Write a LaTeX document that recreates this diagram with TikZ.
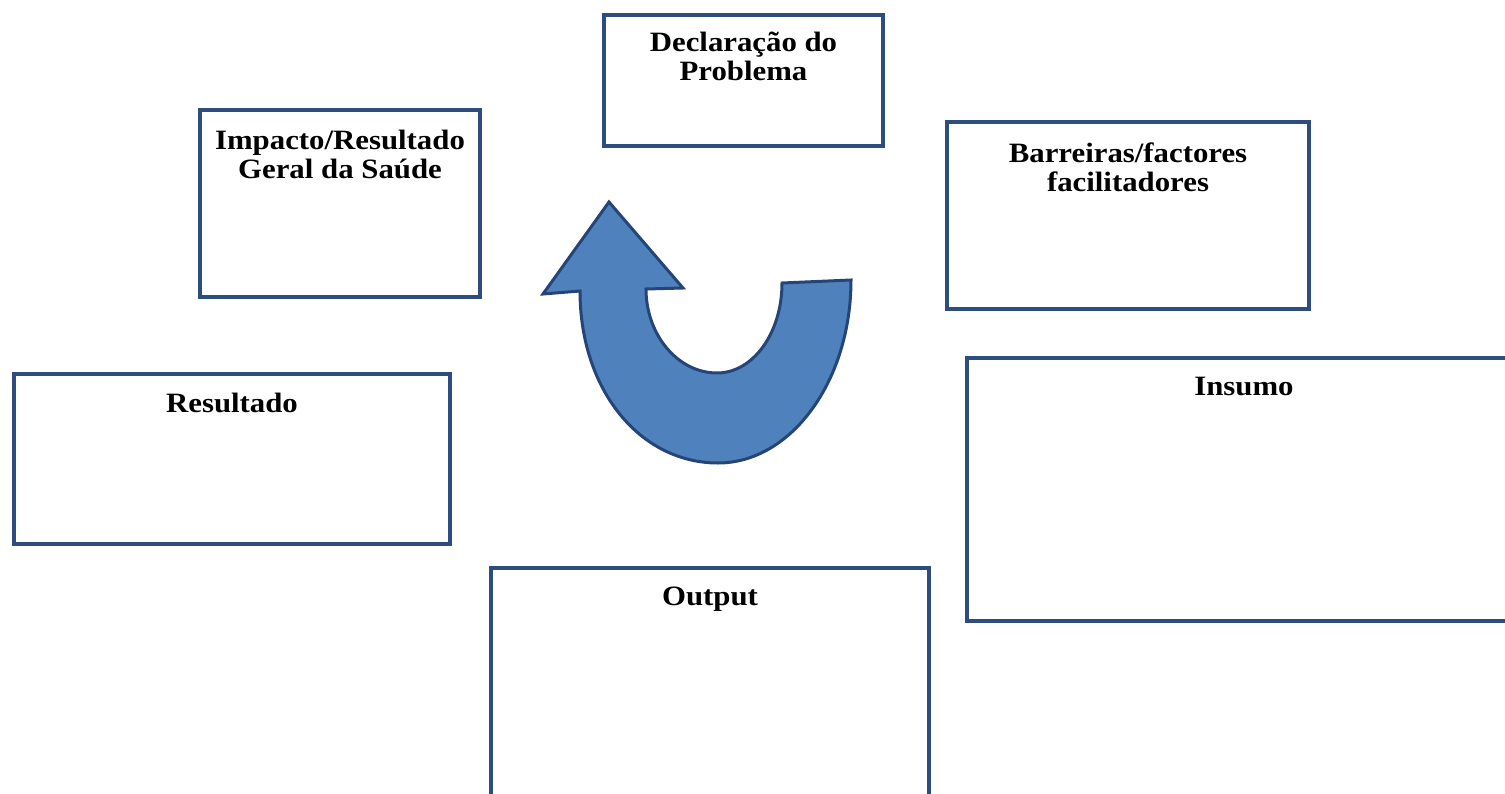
\documentclass[tikz,border=0pt]{standalone}
\usepackage{fontspec}
\setmainfont[FakeStretch=1.1]{Liberation Serif}
\usepackage{xcolor}
\usepackage{tikz}
\usetikzlibrary{positioning}
\definecolor{boxblue}{RGB}{44,77,125}
\definecolor{arrowfill}{RGB}{79,129,189}
\definecolor{arrowline}{RGB}{37,69,120}
\tikzstyle{panel} = [rectangle, draw=boxblue, line width=2pt, fill=white, inner sep=0pt]
\tikzstyle{title} = [inner sep=0pt, align=center, font=\fontsize{14}{14.5}\selectfont\bfseries]
\tikzstyle{uturn} = [fill=arrowfill, draw=arrowline, line width=1.5pt, line join=miter]

\begin{document}
\begin{tikzpicture}[x=0.5pt, y=-0.5pt]

    \useasboundingbox (0,0) rectangle (1505,793);
    \clip (0,0) rectangle (1505,793);

    % Boxes
    \node (decl) [panel, minimum width=139.5pt, minimum height=65.5pt] at (743.5,80.5) {};
    \node (impact) [panel, minimum width=140pt, minimum height=93.5pt] at (340,203.5) {};
    \node (barr) [panel, minimum width=181pt, minimum height=93.5pt] at (1128,215.5) {};
    \node (result) [panel, minimum width=218pt, minimum height=85pt] at (232,459) {};
    \node (insumo) [panel, minimum width=277pt, minimum height=131.5pt] at (1244,489.5) {};
    \node (output) [panel, minimum width=219pt, minimum height=126pt] at (710,694) {};

    % Titles
    \node (declT) [title, below=9.5pt of decl.north] {Declaração do\\Problema};
    \node (impactT) [title, below=11pt of impact.north] {Impacto/Resultado\\Geral da Saúde};
    \node (barrT) [title, below=11pt of barr.north] {Barreiras/factores\\facilitadores};
    \node (resultT) [title, below=10.5pt of result.north] {Resultado};
    \node (insumoT) [title, below=10.5pt of insumo.north] {Insumo};
    \node (outputT) [title, below=10.5pt of output.north] {Output};

    % Arrow
    \draw [uturn] (580,291)
        .. controls (580,390) and (640,463) .. (718,463)
        .. controls (791,463) and (851,381) .. (851,280)
        -- (782,283)
        .. controls (782,333) and (753,373) .. (717,373)
        .. controls (678,373) and (646,335) .. (646,289)
        -- (683,288) -- (609,202) -- (543,294) -- cycle;

\end{tikzpicture}
\end{document}
